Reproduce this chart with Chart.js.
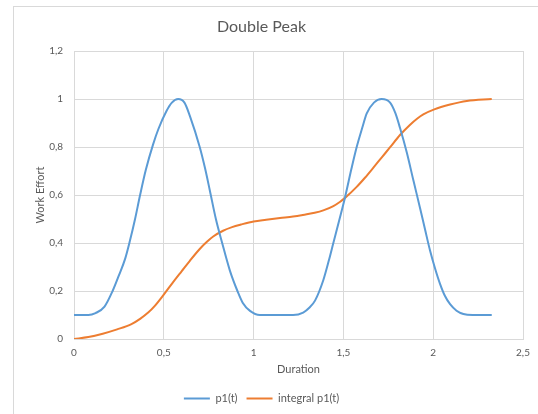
<!DOCTYPE html>
<html>
<head>
<meta charset="utf-8">
<script src="https://cdn.jsdelivr.net/npm/chart.js@4/dist/chart.umd.min.js"></script>
<style>
  html, body { margin: 0; padding: 0; background: #fff; overflow: hidden; }
  #wrap { position: relative; width: 538px; height: 414px; }
  #frame { position: absolute; left: 13px; top: 6px; width: 700px; height: 600px; border: 1px solid #d9d9d9; box-sizing: border-box; }
  canvas { position: absolute; left: 0; top: 0; }
</style>
</head>
<body>
<div id="wrap">
  <div id="frame"></div>
  <canvas id="c" width="538" height="414"></canvas>
</div>
<script>
// ---- data ----
const chartTitle = 'Double Peak';
const xAxisTitle = 'Duration';
const yAxisTitle = 'Work Effort';
const seriesNames = ['p1(t)', 'integral p1(t)'];

const p1T = [0, 0.08, 0.12, 0.17, 0.215, 0.25, 0.285, 0.31, 0.34, 0.368, 0.40, 0.44, 0.47, 0.515, 0.545, 0.58,
             0.615, 0.645, 0.70, 0.73, 0.756, 0.79, 0.825, 0.868, 0.91, 0.94, 0.98, 1.035, 1.22,
             1.276, 1.31, 1.342, 1.388, 1.42, 1.444, 1.475, 1.509, 1.545, 1.574, 1.605, 1.63, 1.67, 1.713,
             1.76, 1.79, 1.815, 1.853, 1.89, 1.927, 1.955, 1.982, 2.01, 2.038, 2.065, 2.094, 2.13, 2.168, 2.22, 2.326];
const p1V = [0.1, 0.1, 0.108, 0.135, 0.2, 0.265, 0.335, 0.405, 0.5, 0.6, 0.705, 0.81, 0.875, 0.95, 0.985, 1.0,
             0.985, 0.93, 0.80, 0.71, 0.62, 0.5, 0.4, 0.285, 0.2, 0.15, 0.117, 0.1, 0.1,
             0.11, 0.13, 0.16, 0.245, 0.33, 0.4, 0.49, 0.59, 0.71, 0.80, 0.88, 0.94, 0.985, 1.0,
             0.985, 0.94, 0.88, 0.777, 0.66, 0.545, 0.455, 0.37, 0.295, 0.23, 0.18, 0.145, 0.118, 0.104, 0.1, 0.1];

const intT = [0, 0.08, 0.16, 0.24, 0.32, 0.37, 0.413, 0.45, 0.5, 0.55, 0.6, 0.645, 0.70, 0.74, 0.775, 0.83, 0.88, 0.93,
              1.0, 1.07, 1.147, 1.22, 1.29, 1.34, 1.388, 1.444, 1.48, 1.509, 1.574, 1.62, 1.667, 1.715, 1.759,
              1.815, 1.87, 1.91, 1.945, 2.006, 2.094, 2.187, 2.326];
const intV = [0, 0.008, 0.022, 0.04, 0.062, 0.085, 0.11, 0.138, 0.185, 0.235, 0.283, 0.326, 0.375, 0.405, 0.427, 0.451, 0.466, 0.477,
              0.49, 0.497, 0.504, 0.51, 0.519, 0.526, 0.536, 0.554, 0.571, 0.588, 0.634, 0.672, 0.714, 0.758, 0.798,
              0.85, 0.892, 0.918, 0.936, 0.957, 0.977, 0.992, 1.0];

const xTickLabels = ['0', '0,5', '1', '1,5', '2', '2,5'];
const yTickLabels = ['0', '0,2', '0,4', '0,6', '0,8', '1', '1,2'];

const colors = ['#5B9BD5', '#ED7D31'];

const toPoints = (ts, vs) => ts.map((t, i) => ({ x: t, y: vs[i] }));

const FONT = 'Lato, "Open Sans", sans-serif';
const textGray = '#595959';
const gridGray = '#d9d9d9';

new Chart(document.getElementById('c'), {
  type: 'line',
  data: {
    datasets: [
      { label: seriesNames[0], data: toPoints(p1T, p1V), borderColor: colors[0], backgroundColor: colors[0], borderWidth: 2, pointRadius: 0, cubicInterpolationMode: 'monotone', pointStyle: 'line' },
      { label: seriesNames[1], data: toPoints(intT, intV), borderColor: colors[1], backgroundColor: colors[1], borderWidth: 2, pointRadius: 0, cubicInterpolationMode: 'monotone', pointStyle: 'line' }
    ]
  },
  options: {
    responsive: false,
    animation: false,
    devicePixelRatio: 1,
    layout: { padding: { left: 0, right: 15, top: 0, bottom: 0 } },
    plugins: {
      title: {
        display: true, text: chartTitle, color: textGray,
        font: { family: FONT, size: 16, weight: 'normal', lineHeight: 1.2 },
        padding: { top: 17, bottom: 14.8 }
      },
      legend: {
        position: 'bottom',
        labels: {
          usePointStyle: true, pointStyle: 'line', pointStyleWidth: 26,
          color: textGray, font: { family: FONT, size: 11 }, padding: 9, boxHeight: 10
        }
      },
      tooltip: { enabled: false }
    },
    scales: {
      x: {
        type: 'linear', min: 0, max: 2.5,
        ticks: { stepSize: 0.5, color: textGray, font: { family: FONT, size: 10 }, padding: 8,
          maxRotation: 0,
          callback: (v, i) => xTickLabels[i] },
        grid: { color: gridGray, drawTicks: false, lineWidth: 1 },
        border: { display: true, color: gridGray },
        title: { display: true, text: xAxisTitle, color: textGray, font: { family: FONT, size: 11 }, padding: { top: 2, bottom: 8 } },
        afterFit: (s) => { s.height = 45; }
      },
      y: {
        type: 'linear', min: 0, max: 1.2,
        ticks: { stepSize: 0.2, color: textGray, font: { family: FONT, size: 10 }, padding: 11,
          callback: (v, i) => yTickLabels[i] },
        grid: { color: gridGray, drawTicks: false, lineWidth: 1 },
        border: { display: true, color: gridGray },
        title: { display: true, text: yAxisTitle, color: textGray, font: { family: FONT, size: 11 }, padding: { top: 34, bottom: 2 } },
        afterFit: (s) => { s.width = 74; }
      }
    }
  }
});
</script>
</body>
</html>
